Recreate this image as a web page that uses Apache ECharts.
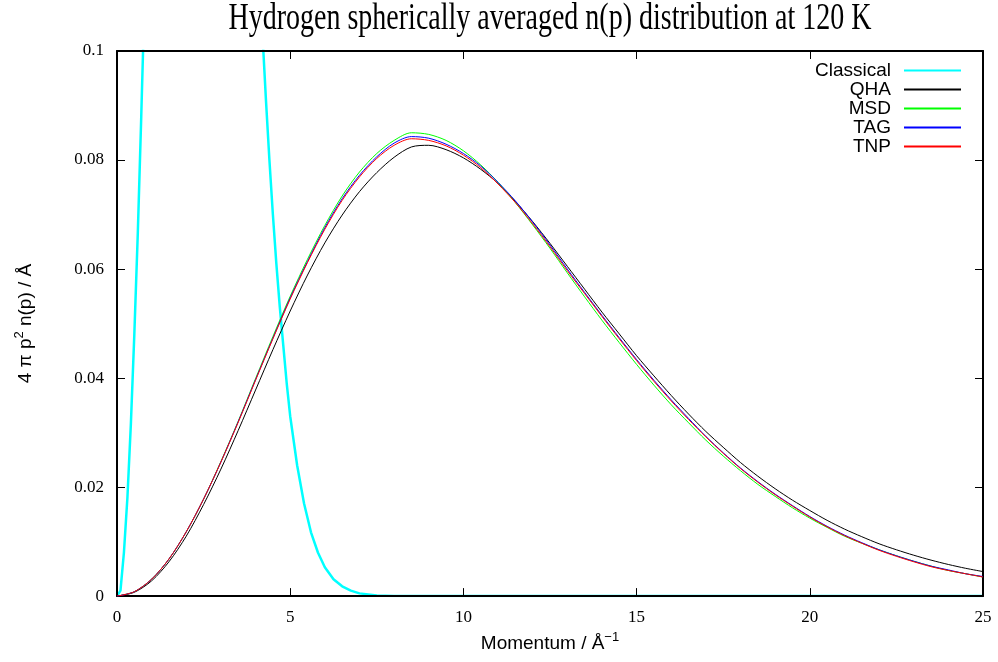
<!DOCTYPE html>
<html>
<head>
<meta charset="utf-8">
<script src="https://cdn.jsdelivr.net/npm/echarts@6/dist/echarts.min.js"></script>
<style>html,body{margin:0;padding:0;background:#fff}#c{width:998px;height:662px}</style>
</head>
<body>
<div id="c"></div>
<script>
// Momentum grid (Å^-1) for the quantum curves
const momentum = [0,0.5,1,1.5,2,2.5,3,3.5,4,4.5,5,5.5,6,6.5,7,7.5,8,8.5,9,9.5,10,10.5,11,11.5,12,12.5,13,13.5,14,14.5,15,15.5,16,16.5,17,17.5,18,18.5,19,19.5,20,20.5,21,21.5,22,22.5,23,23.5,24,24.5,25];
const qha = [0,0.0007,0.0028,0.0063,0.0110,0.0168,0.0233,0.0304,0.0378,0.0452,0.0523,0.0589,0.0648,0.0699,0.0742,0.0777,0.0805,0.0824,0.0827,0.0819,0.0804,0.0783,0.0757,0.0724,0.0687,0.0647,0.0605,0.0563,0.0521,0.0481,0.0441,0.0404,0.0368,0.0334,0.0302,0.0273,0.0245,0.0220,0.0197,0.0176,0.0157,0.0139,0.0123,0.0109,0.0096,0.0085,0.0075,0.0066,0.0058,0.0051,0.0045];
const msd = [0,0.0008,0.0031,0.0068,0.0118,0.0178,0.0247,0.0321,0.0399,0.0476,0.0550,0.0618,0.0680,0.0734,0.0778,0.0812,0.0836,0.0850,0.0847,0.0836,0.0817,0.0791,0.0759,0.0722,0.0681,0.0638,0.0593,0.0549,0.0506,0.0465,0.0425,0.0387,0.0351,0.0318,0.0286,0.0257,0.0230,0.0205,0.0183,0.0162,0.0143,0.0126,0.0110,0.0097,0.0085,0.0074,0.0064,0.0055,0.0047,0.0041,0.0035];
const tag = [0,0.0008,0.0031,0.0068,0.0118,0.0178,0.0246,0.0320,0.0397,0.0473,0.0547,0.0614,0.0676,0.0729,0.0772,0.0806,0.0831,0.0843,0.0840,0.0829,0.0812,0.0789,0.0759,0.0725,0.0686,0.0644,0.0600,0.0557,0.0515,0.0474,0.0434,0.0396,0.0360,0.0326,0.0293,0.0263,0.0235,0.0210,0.0187,0.0166,0.0146,0.0128,0.0112,0.0098,0.0085,0.0074,0.0064,0.0055,0.0048,0.0041,0.0036];
const tnp = [0,0.0008,0.0031,0.0068,0.0118,0.0178,0.0246,0.0319,0.0396,0.0472,0.0545,0.0612,0.0673,0.0726,0.0769,0.0803,0.0827,0.0839,0.0836,0.0826,0.0809,0.0786,0.0756,0.0722,0.0683,0.0641,0.0597,0.0555,0.0513,0.0472,0.0432,0.0394,0.0358,0.0324,0.0292,0.0262,0.0234,0.0209,0.0186,0.0165,0.0145,0.0127,0.0111,0.0097,0.0084,0.0073,0.0063,0.0054,0.0047,0.0041,0.0035];
// Classical curve: its own momentum samples (peak runs far above the plotted range)
const classicalP = [0,0.1,0.2,0.3,0.4,0.5,0.6,0.7,0.8,0.9,1.0,1.5,2.2,3.0,3.5,3.8,4.0,4.1,4.2,4.3,4.4,4.5,4.6,4.7,4.8,4.9,5.0,5.2,5.4,5.6,5.8,6.0,6.25,6.5,6.75,7.0,7.5,8.0,25];
const classicalN = [0,0.0010,0.0080,0.0180,0.0315,0.0480,0.0665,0.0880,0.1110,0.136,0.162,0.27,0.37,0.30,0.21,0.165,0.131,0.117,0.103,0.091,0.080,0.070,0.061,0.053,0.046,0.039,0.033,0.024,0.017,0.0117,0.0080,0.0053,0.0031,0.0018,0.0010,0.0005,0.0001,0,0];
const seriesNames = ['Classical','QHA','MSD','TAG','TNP'];
const seriesColors = ['#00ffff','#000000','#00ff00','#0000ff','#ff0000'];
const xTicks = {min:0, max:25, interval:5};
const yTicks = {min:0, max:0.1, interval:0.02};

const zip = (xs, ys) => xs.map((x, i) => [x, ys[i]]);
const quantum = [qha, msd, tag, tnp];

const serifLabel = {fontFamily:'"Liberation Serif", serif', fontSize:17, color:'#000'};
const axisLineStyle = {show:true, onZero:false, lineStyle:{color:'#000', width:2}};
const tickStyle = {show:true, inside:true, length:8, lineStyle:{color:'#000', width:1}};
const sansName = {fontFamily:'"Liberation Sans", Arial, sans-serif', fontSize:19, color:'#000', lineHeight:26,
  rich:{sup:{fontFamily:'"Liberation Sans", Arial, sans-serif', fontSize:13, color:'#000', verticalAlign:'top', lineHeight:14}}};

const chart = echarts.init(document.getElementById('c'), null, {renderer:'canvas'});
chart.setOption({
  animation:false,
  backgroundColor:'#fff',
  graphic:[{
    type:'text', x:550, y:19, scaleY:1.35, z:10,
    style:{text:'Hydrogen spherically averaged n(p) distribution at 120 K', fontFamily:'"Liberation Serif", serif', fontSize:28, fill:'#000', align:'center', verticalAlign:'middle'}
  }],
  grid:{left:117, right:15, top:51, bottom:64, containLabel:false},
  legend:{
    data:seriesNames, orient:'vertical', align:'right', right:31, top:56,
    itemWidth:57, itemHeight:14, itemGap:0,
    itemStyle:{opacity:0},
    textStyle:{fontFamily:'"Liberation Sans", Arial, sans-serif', fontSize:19, lineHeight:19, color:'#000', padding:[0,8,0,0]}
  },
  xAxis:[{
    type:'value', min:xTicks.min, max:xTicks.max, interval:xTicks.interval, position:'bottom', z:5,
    axisLine:axisLineStyle, axisTick:tickStyle, splitLine:{show:false},
    axisLabel:Object.assign({margin:13}, serifLabel),
    name:'Momentum / Å{sup|−1}', nameLocation:'middle', nameGap:33, nameTextStyle:sansName
  },{
    type:'value', min:xTicks.min, max:xTicks.max, interval:xTicks.interval, position:'top', z:5,
    axisLine:axisLineStyle, axisTick:tickStyle, splitLine:{show:false}, axisLabel:{show:false}
  }],
  yAxis:[{
    type:'value', min:yTicks.min, max:yTicks.max, interval:yTicks.interval, position:'left', z:5,
    axisLine:axisLineStyle, axisTick:tickStyle, splitLine:{show:false},
    axisLabel:Object.assign({margin:13, formatter:v => String(+v.toFixed(2))}, serifLabel),
    name:'4 π p{sup|2} n(p) / Å', nameLocation:'middle', nameGap:78, nameTextStyle:sansName
  },{
    type:'value', min:yTicks.min, max:yTicks.max, interval:yTicks.interval, position:'right', z:5,
    axisLine:axisLineStyle, axisTick:tickStyle, splitLine:{show:false}, axisLabel:{show:false}
  }],
  series:[
    {name:seriesNames[0], type:'line', xAxisIndex:0, yAxisIndex:0, data:zip(classicalP, classicalN), symbol:'none', smooth:false, clip:true,
     lineStyle:{color:seriesColors[0], width:2.5}, itemStyle:{color:seriesColors[0]}, z:2}
  ].concat(quantum.map((vals, i) => ({
    name:seriesNames[i+1], type:'line', xAxisIndex:0, yAxisIndex:0, data:zip(momentum, vals), symbol:'none', smooth:0.3, clip:true,
    lineStyle:{color:seriesColors[i+1], width:1}, itemStyle:{color:seriesColors[i+1]}, z:3+i
  })))
});
</script>
</body>
</html>
